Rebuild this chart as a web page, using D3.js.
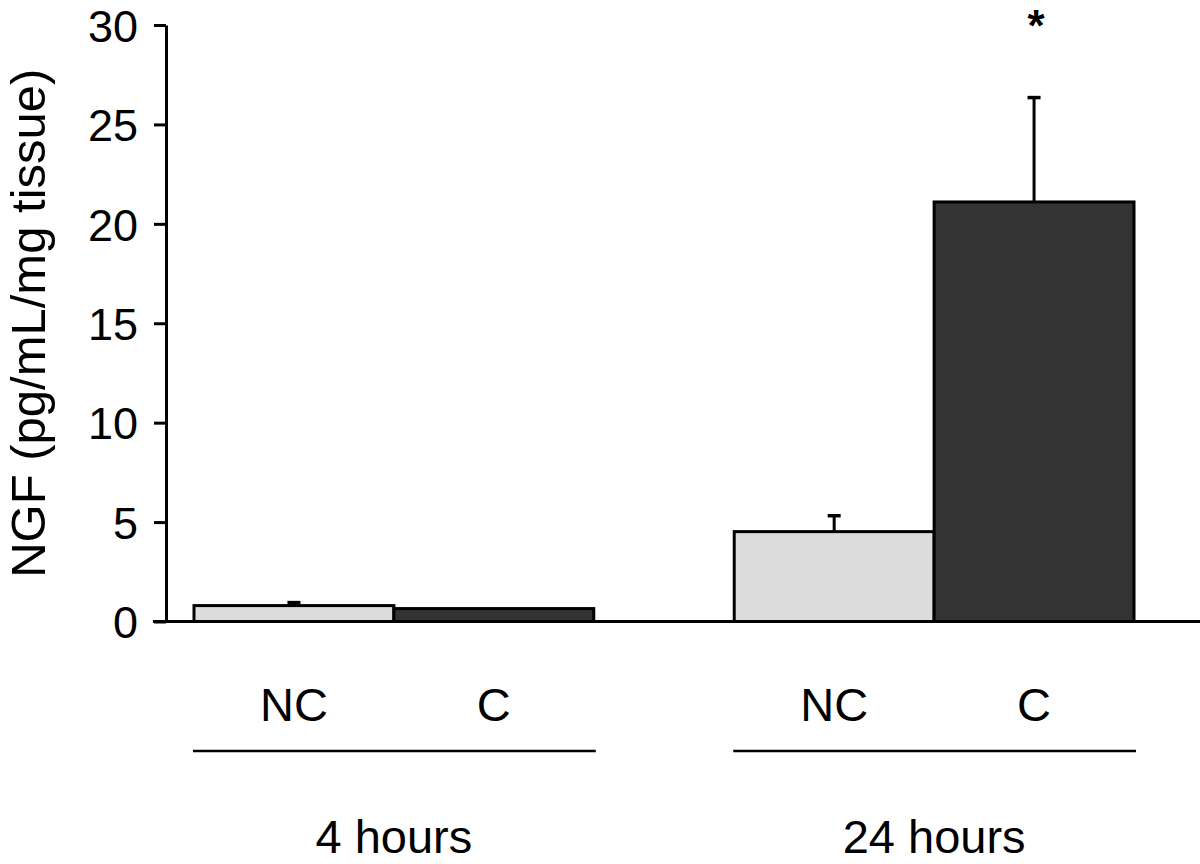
<!DOCTYPE html>
<html>
<head>
<meta charset="utf-8">
<script src="https://cdn.jsdelivr.net/npm/d3@7"></script>
<style>
  body { margin: 0; background: #fff; }
  svg { display: block; font-family: "Liberation Sans", Arial, sans-serif; }
</style>
</head>
<body>
<svg width="1200" height="864"></svg>
<script>
// data
const groups = ["4 hours", "24 hours"];
const conditions = ["NC", "C"];
const means = [[0.8, 0.65], [4.52, 21.1]];
const errors = [[0.15, null], [0.8, 5.25]];
const stars = [[false, false], [false, true]];
const yTicks = [0, 5, 10, 15, 20, 25, 30];
const fills = { NC: "#dcdcdc", C: "#333333" };

const svg = d3.select("svg");

const y = d3.scaleLinear().domain([0, 30]).range([621.5, 25]);
const x0 = d3.scaleBand().domain(groups).range([194, 1134]).paddingInner(0.26).paddingOuter(0);
const x1 = d3.scaleBand().domain(conditions).range([0, x0.bandwidth()]).padding(0);

const rows = [];
groups.forEach((g, gi) => {
  conditions.forEach((c, ci) => {
    rows.push({ group: g, cond: c, value: means[gi][ci], err: errors[gi][ci], star: stars[gi][ci] });
  });
});

// error bars (drawn first so the bar outline sits on top)
const errLayer = svg.append("g");
rows.filter(d => d.err != null).forEach(d => {
  const cx = x0(d.group) + x1(d.cond) + x1.bandwidth() / 2;
  errLayer.append("line")
    .attr("x1", cx).attr("x2", cx)
    .attr("y1", y(d.value)).attr("y2", y(d.value + d.err))
    .attr("stroke", "#000").attr("stroke-width", 3);
  errLayer.append("line")
    .attr("x1", cx - 6.5).attr("x2", cx + 6.5)
    .attr("y1", y(d.value + d.err)).attr("y2", y(d.value + d.err))
    .attr("stroke", "#000").attr("stroke-width", 3.5);
});

// bars
svg.append("g").selectAll("rect")
  .data(rows)
  .join("rect")
  .attr("x", d => x0(d.group) + x1(d.cond))
  .attr("y", d => y(d.value))
  .attr("width", x1.bandwidth())
  .attr("height", d => y(0) - y(d.value))
  .attr("fill", d => fills[d.cond])
  .attr("stroke", "#000")
  .attr("stroke-width", 3);

// significance star
rows.filter(d => d.star).forEach(d => {
  const cx = x0(d.group) + x1(d.cond) + x1.bandwidth() / 2;
  svg.append("text")
    .attr("x", cx + 2).attr("y", 41)
    .attr("text-anchor", "middle")
    .attr("font-size", 44)
    .attr("font-weight", "bold")
    .text("*");
});

// baseline
svg.append("line")
  .attr("x1", 153).attr("x2", 1200)
  .attr("y1", y(0)).attr("y2", y(0))
  .attr("stroke", "#000").attr("stroke-width", 3);

// y axis
const yAxis = svg.append("g")
  .attr("transform", "translate(166,0)")
  .call(d3.axisLeft(y).tickValues(yTicks).tickSize(12).tickSizeOuter(0).tickPadding(16));
yAxis.select(".domain").attr("stroke-width", 3);
yAxis.selectAll(".tick line").attr("stroke-width", 3);
yAxis.selectAll(".tick text")
  .attr("font-size", 45)
  .attr("font-family", "Liberation Sans, Arial, sans-serif")
  .attr("fill", "#000")
  .attr("dy", "0.36em");

// y label
svg.append("text")
  .attr("transform", "translate(45," + y(15) + ") rotate(-90)")
  .attr("text-anchor", "middle")
  .attr("font-size", 49)
  .text("NGF (pg/mL/mg tissue)");

// condition labels
rows.forEach(d => {
  svg.append("text")
    .attr("x", x0(d.group) + x1(d.cond) + x1.bandwidth() / 2)
    .attr("y", 721)
    .attr("text-anchor", "middle")
    .attr("font-size", 47)
    .text(d.cond);
});

// group underline + group label
groups.forEach(g => {
  svg.append("line")
    .attr("x1", x0(g) - 1).attr("x2", x0(g) + x0.bandwidth() + 2)
    .attr("y1", 751).attr("y2", 751)
    .attr("stroke", "#000").attr("stroke-width", 2.5);
  svg.append("text")
    .attr("x", x0(g) + x0.bandwidth() / 2)
    .attr("y", 853)
    .attr("text-anchor", "middle")
    .attr("font-size", 47)
    .text(g);
});
</script>
</body>
</html>
